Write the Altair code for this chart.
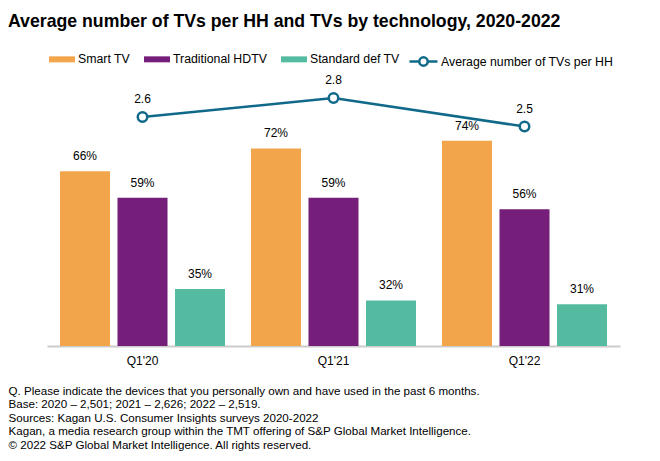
import altair as alt
import pandas as pd

quarters = ["Q1'20", "Q1'21", "Q1'22"]
series = ["Smart TV", "Traditional HDTV", "Standard def TV"]
smart_tv = [66, 72, 74]
traditional_hdtv = [59, 59, 56]
standard_def = [35, 32, 31]
avg_tvs = [2.6, 2.8, 2.5]
line_name = "Average number of TVs per HH"

colors = ["#F2A54A", "#761F7A", "#55BBA0"]
line_color = "#11698A"

title_text = "Average number of TVs per HH and TVs by technology, 2020-2022"
footnote = [
    "Q. Please indicate the devices that you personally own and have used in the past 6 months.",
    "Base: 2020 \u2013 2,501; 2021 \u2013 2,626; 2022 \u2013 2,519.",
    "Sources: Kagan U.S. Consumer Insights surveys 2020-2022",
    "Kagan, a media research group within the TMT offering of S&P Global Market Intelligence.",
    "\u00a9 2022 S&P Global Market Intelligence.  All rights reserved.",
]

rows = []
for i, q in enumerate(quarters):
    for s, vals in zip(series, [smart_tv, traditional_hdtv, standard_def]):
        rows.append({"quarter": q, "series": s, "value": vals[i], "label": f"{vals[i]}%"})
bars_df = pd.DataFrame(rows)
line_df = pd.DataFrame({"quarter": quarters, "avg": avg_tvs, "series": [line_name] * 3})

FONT = "Liberation Sans"

x_enc = alt.X(
    "quarter:N",
    sort=quarters,
    scale=alt.Scale(paddingInner=0.136, paddingOuter=0.068),
    axis=alt.Axis(
        title=footnote,
        titleAnchor="start",
        titleAlign="left",
        titleX=-39,
        titleY=39,
        titleBaseline="top",
        titleFont=FONT,
        titleFontSize=11.6,
        titleFontWeight="normal",
        titleColor="#000000",
        titleLineHeight=13.6,
        labelAngle=0,
        labelFont=FONT,
        labelFontSize=12,
        labelColor="#000000",
        labelPadding=9,
        ticks=False,
        domainColor="#CCCCCC",
        domainWidth=2,
        grid=False,
    ),
)
xoff = alt.XOffset("series:N", sort=series, scale=alt.Scale(paddingInner=0.13, paddingOuter=0))
y_bar = alt.Y("value:Q", scale=alt.Scale(domain=[20, 90], zero=False, nice=False), axis=None)
y_line = alt.Y("avg:Q", scale=alt.Scale(domain=[0.19, 2.99], zero=False, nice=False), axis=None)

rect_path = "M-1,-0.23L1,-0.23L1,0.23L-1,0.23Z"
line_path = "M-1,0L-0.3,0M0.3,0L1,0M-0.3,0A0.3,0.3,0,1,0,0.3,0A0.3,0.3,0,1,0,-0.3,0Z"

bars = alt.Chart(bars_df).mark_bar().encode(
    x=x_enc,
    xOffset=xoff,
    y=y_bar,
    y2=alt.datum(20),
    color=alt.Color(
        "series:N",
        sort=series,
        scale=alt.Scale(domain=series, range=colors),
        legend=alt.Legend(
            title=None,
            orient="none",
            legendX=2,
            legendY=-34,
            direction="horizontal",
            symbolType=rect_path,
            symbolSize=676,
            symbolStrokeWidth=0,
            labelFont=FONT,
            labelFontSize=12.3,
            labelColor="#000000",
            labelOffset=3,
            columnPadding=14,
        ),
    ),
)

bar_text = alt.Chart(bars_df).mark_text(
    baseline="bottom", dy=-8, font=FONT, fontSize=12, color="#000000"
).encode(x=alt.X("quarter:N", sort=quarters), xOffset=xoff, y=y_bar, text="label:N")

line = alt.Chart(line_df).mark_line(strokeWidth=2.5).encode(
    x=alt.X("quarter:N", sort=quarters),
    y=y_line,
    stroke=alt.Stroke(
        "series:N",
        scale=alt.Scale(domain=[line_name], range=[line_color]),
        legend=alt.Legend(
            title=None,
            orient="none",
            legendX=361,
            legendY=-34,
            direction="horizontal",
            symbolType=line_path,
            symbolSize=784,
            symbolStrokeWidth=2.5,
            symbolFillColor="#FFFFFF",
            labelFont=FONT,
            labelFontSize=12.3,
            labelColor="#000000",
            labelOffset=2,
            labelLimit=400,
        ),
    ),
)

points = alt.Chart(line_df).mark_point(
    filled=True, fill="#FFFFFF", stroke=line_color, strokeWidth=2.5, size=90, opacity=1
).encode(x=alt.X("quarter:N", sort=quarters), y=y_line)

line_text = alt.Chart(line_df).mark_text(
    baseline="bottom", dy=-11, font=FONT, fontSize=12, color="#000000"
).encode(x=alt.X("quarter:N", sort=quarters), y=y_line, text=alt.Text("avg:Q", format=".1f"))

chart = (
    alt.layer(bars, bar_text, line, points, line_text)
    .resolve_scale(y="independent")
    .properties(
        width=573,
        height=266,
        background="#FFFFFF",
        padding={"left": 39, "top": 72, "right": 30, "bottom": 107},
        autosize=alt.AutoSizeParams(type="none"),
        title=alt.TitleParams(
            text=title_text,
            anchor="start",
            frame="group",
            dx=-39,
            offset=15,
            font=FONT,
            fontSize=17.7,
            fontWeight="bold",
            color="#000000",
        ),
    )
    .configure_view(stroke=None, strokeWidth=0)
)

chart.save("out.html", embed_options={"renderer": "svg", "actions": False})
